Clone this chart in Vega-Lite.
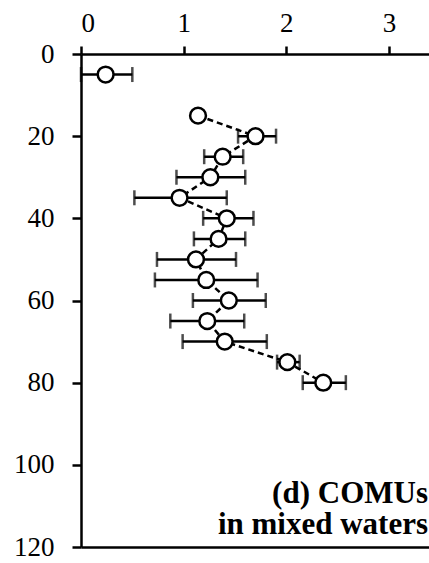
{
  "$schema": "https://vega.github.io/schema/vega-lite/v6.json",
  "width": 348,
  "height": 493,
  "autosize": "none",
  "padding": {"left": 81, "top": 54, "right": 0, "bottom": 16},
  "background": "white",
  "config": {
    "view": {"stroke": null},
    "font": "Liberation Serif, Times New Roman, serif",
    "axis": {
      "grid": false,
      "labelFont": "Liberation Serif, Times New Roman, serif",
      "labelFontSize": 27,
      "labelColor": "black",
      "domainColor": "black",
      "tickColor": "black",
      "domainWidth": 2.5,
      "tickWidth": 2.5
    }
  },
  "datasets": {
    "pts": [
      {"depth": 5, "x": 0.24, "lo": 0.0, "hi": 0.50},
      {"depth": 15, "x": 1.14, "lo": 1.11, "hi": 1.17},
      {"depth": 20, "x": 1.70, "lo": 1.53, "hi": 1.90},
      {"depth": 25, "x": 1.38, "lo": 1.20, "hi": 1.58},
      {"depth": 30, "x": 1.26, "lo": 0.93, "hi": 1.60},
      {"depth": 35, "x": 0.96, "lo": 0.52, "hi": 1.42},
      {"depth": 40, "x": 1.42, "lo": 1.19, "hi": 1.68},
      {"depth": 45, "x": 1.34, "lo": 1.10, "hi": 1.60},
      {"depth": 50, "x": 1.12, "lo": 0.74, "hi": 1.51},
      {"depth": 55, "x": 1.22, "lo": 0.72, "hi": 1.72},
      {"depth": 60, "x": 1.44, "lo": 1.09, "hi": 1.80},
      {"depth": 65, "x": 1.23, "lo": 0.87, "hi": 1.59},
      {"depth": 70, "x": 1.40, "lo": 0.99, "hi": 1.81},
      {"depth": 75, "x": 2.01, "lo": 1.91, "hi": 2.13},
      {"depth": 80, "x": 2.36, "lo": 2.16, "hi": 2.58}
    ],
    "note": [
      {"label": "(d) COMUs|in mixed waters"}
    ]
  },
  "data": {"name": "pts"},
  "resolve": {"axis": {"x": "independent"}},
  "layer": [
    {
      "mark": {"type": "errorbar", "ticks": true, "size": 15, "thickness": 2.5, "color": "black"},
      "encoding": {
        "x": {
          "field": "lo",
          "type": "quantitative",
          "scale": {"domain": [0, 3.39], "nice": false, "zero": false},
          "axis": {"orient": "top", "title": null, "values": [0, 1, 2, 3], "tickSize": 8, "labelPadding": 9}
        },
        "x2": {"field": "hi"},
        "y": {
          "field": "depth",
          "type": "quantitative",
          "scale": {"domain": [0, 120], "reverse": true, "nice": false, "zero": false},
          "axis": {"title": null, "values": [0, 20, 40, 60, 80, 100, 120], "tickSize": 9, "labelPadding": 18}
        }
      }
    },
    {
      "transform": [{"filter": "datum.depth >= 15"}],
      "mark": {"type": "line", "color": "black", "strokeWidth": 2.5, "strokeDash": [6, 4]},
      "encoding": {
        "x": {"field": "x", "type": "quantitative", "axis": null},
        "y": {"field": "depth", "type": "quantitative", "axis": {"title": null, "values": [0, 20, 40, 60, 80, 100, 120], "tickSize": 9, "labelPadding": 18}},
        "order": {"field": "depth", "type": "quantitative"}
      }
    },
    {
      "mark": {"type": "point", "filled": true, "fill": "white", "stroke": "black", "strokeWidth": 2.5, "size": 250, "opacity": 1},
      "encoding": {
        "x": {
          "field": "x",
          "type": "quantitative",
          "axis": {"orient": "bottom", "title": null, "labels": false, "ticks": false}
        },
        "y": {"field": "depth", "type": "quantitative", "axis": {"title": null, "values": [0, 20, 40, 60, 80, 100, 120], "tickSize": 9, "labelPadding": 18}}
      }
    },
    {
      "data": {"name": "note"},
      "mark": {
        "type": "text",
        "font": "Liberation Serif, Times New Roman, serif",
        "fontWeight": "bold",
        "fontSize": 31,
        "lineHeight": 31,
        "lineBreak": "|",
        "align": "right",
        "baseline": "alphabetic",
        "color": "black"
      },
      "encoding": {
        "text": {"field": "label", "type": "nominal"},
        "x": {"datum": 3.38, "type": "quantitative", "axis": null},
        "y": {"datum": 109.3, "type": "quantitative", "axis": {"title": null, "values": [0, 20, 40, 60, 80, 100, 120], "tickSize": 9, "labelPadding": 18}}
      }
    }
  ]
}
